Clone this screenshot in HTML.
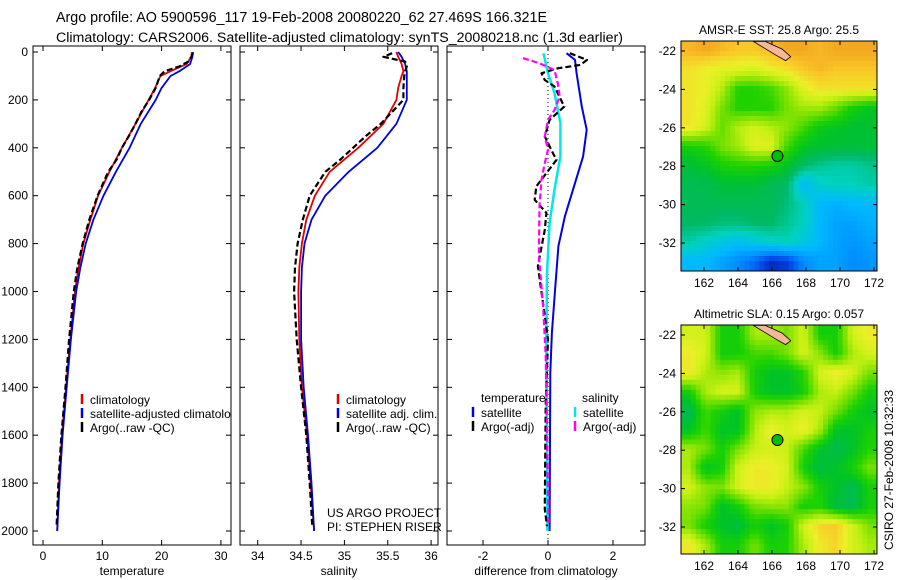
<!DOCTYPE html>
<html><head><meta charset="utf-8"><style>
body{margin:0;background:#fff;}
svg{display:block;font-family:"Liberation Sans",sans-serif;}
</style></head><body>
<svg id="fig" width="900" height="580" viewBox="0 0 900 580" xmlns="http://www.w3.org/2000/svg">
<text x="56" y="22" font-size="14.3">Argo profile: AO 5900596_117 19-Feb-2008 20080220_62 27.469S 166.321E</text>
<text x="56" y="42" font-size="14.2">Climatology: CARS2006. Satellite-adjusted climatology: synTS_20080218.nc (1.3d earlier)</text>
<g id="plots"></g>
<text x="327" y="517" font-size="12">US ARGO PROJECT</text>
<text x="327" y="531" font-size="12">PI: STEPHEN RISER</text>
<text transform="translate(893,470) rotate(-90)" text-anchor="middle" font-size="12">CSIRO 27-Feb-2008 10:32:33</text>
</svg>
<script>
// ---- profile data ----
const depthT = [0,20,50,80,100,150,200,300,400,500,600,700,800,900,1000,1200,1400,1600,1800,2000];
const tempClim = [25.1,25.0,24.2,21.5,19.8,18.9,17.8,15.6,13.3,11.2,9.3,8.0,6.8,6.0,5.4,4.6,3.9,3.2,2.7,2.4];
const tempSat = [25.3,25.2,24.8,23.0,21.5,20.0,19.0,16.5,14.6,12.3,10.2,8.5,7.2,6.3,5.6,4.7,4.0,3.3,2.8,2.4];
const depthArgo = [5,20,40,60,80,100,150,200,250,300,350,400,450,500,600,700,800,900,1000,1200,1400,1600,1800,1980];
const tempArgo = [25.3,25.0,24.5,23.0,20.5,19.7,19.0,17.9,16.6,15.6,14.5,13.3,12.4,11.0,9.2,7.8,6.7,5.8,5.2,4.4,3.8,3.1,2.6,2.3];
const salClim = [35.60,35.62,35.66,35.68,35.66,35.62,35.60,35.45,35.16,34.83,34.66,34.56,34.51,34.48,34.47,34.48,34.51,34.57,34.61,34.65];
const salSat = [35.62,35.66,35.70,35.72,35.72,35.72,35.72,35.60,35.38,35.05,34.78,34.62,34.54,34.51,34.50,34.50,34.53,34.58,34.62,34.65];
const salArgo = [35.55,35.45,35.70,35.72,35.70,35.69,35.68,35.68,35.55,35.42,35.25,35.10,34.95,34.78,34.60,34.52,34.46,34.43,34.42,34.45,34.50,34.56,34.60,34.63];
// difference panel
const dDepthSat = [5,33,89,228,325,436,575,686,811,992,1172,1339,2000];
const dTempSat = [0.57,0.83,0.88,1.04,1.19,1.08,0.77,0.52,0.32,0.22,0.12,0.07,0.05];
const dDepthSalSat = [5,89,172,297,436,575,714,922,1200,2000];
const dSalSat = [-0.14,0,0.2,0.38,0.38,0.2,0.05,-0.03,-0.05,-0.02];
const dDepthTArgo = [5,33,54,68,89,117,144,228,283,353,422,450,561,617,672,742,894,1033,1200,1478,1908,1980];
const dTempArgo = [0.67,1.2,1.0,0.3,-0.2,-0.1,0.2,0.5,0.05,-0.1,0.15,0.26,-0.36,-0.41,-0.05,-0.1,-0.31,-0.17,0,-0.07,-0.1,-0.03];
const dDepthSArgo = [26,47,75,131,186,242,283,353,408,464,533,644,853,1061,1269,1561,1980];
const dSalArgo = [-0.77,-0.26,0.2,0.3,0.36,0.2,0,-0.1,0,-0.1,-0.2,-0.26,-0.28,-0.15,-0.07,-0.03,0.02];
const depthTicks = [0,200,400,600,800,1000,1200,1400,1600,1800,2000];
const tempTicks = [0,10,20,30];
const salTicks = [34,34.5,35,35.5,36];
const salTickLabels = ["34","34.5","35","35.5","36"];
const diffTicks = [-2,0,2];
// ---- map data (rows lat -22..-33, cols lon ~161..172) ----
const sstGrid = [
[.92,.94,.92,.9,.9,.92,.94,.94,.92,.94,.94,.94],
[.86,.84,.82,.82,.8,.84,.86,.9,.92,.9,.9,.9],
[.86,.84,.76,.62,.62,.65,.72,.82,.86,.86,.86,.86],
[.86,.82,.7,.62,.62,.62,.7,.74,.74,.68,.6,.56],
[.86,.8,.68,.76,.8,.76,.72,.65,.58,.56,.54,.54],
[.6,.62,.7,.74,.82,.82,.65,.56,.54,.53,.53,.53],
[.53,.56,.6,.62,.62,.6,.55,.48,.44,.42,.42,.44],
[.5,.5,.53,.53,.53,.5,.48,.3,.38,.4,.4,.42],
[.5,.5,.5,.5,.5,.5,.46,.4,.3,.28,.3,.3],
[.48,.48,.46,.46,.48,.48,.44,.4,.3,.25,.25,.28],
[.42,.38,.35,.32,.35,.38,.4,.35,.3,.25,.22,.25],
[.3,.3,.25,.2,.15,.05,.08,.2,.25,.25,.2,.22]];
const slaGrid = [
[.8,.8,.6,.6,.75,.75,.7,.8,.6,.6,.8,.85],
[.85,.8,.6,.6,.65,.65,.7,.8,.72,.6,.75,.8],
[.85,.75,.72,.75,.6,.55,.55,.62,.8,.85,.8,.7],
[.6,.75,.8,.8,.6,.55,.55,.6,.75,.78,.7,.6],
[.5,.65,.6,.55,.72,.75,.75,.8,.78,.7,.6,.55],
[.55,.65,.55,.55,.75,.85,.8,.85,.75,.55,.55,.6],
[.75,.7,.6,.7,.78,.8,.78,.65,.55,.5,.55,.62],
[.75,.55,.6,.8,.85,.85,.8,.6,.52,.55,.6,.7],
[.8,.72,.7,.8,.85,.85,.78,.72,.6,.55,.5,.6],
[.72,.7,.55,.6,.7,.72,.72,.6,.62,.52,.5,.6],
[.7,.6,.55,.52,.6,.55,.6,.8,.88,.9,.8,.7],
[.85,.75,.6,.6,.7,.6,.62,.75,.85,.88,.8,.75]];
const lonTicks = [162,164,166,168,170,172];
const latTicks = [-22,-24,-26,-28,-30,-32];
const argoLon = 166.321, argoLat = -27.469;

const NS = "http://www.w3.org/2000/svg";
const root = document.getElementById('plots');
function mk(tag, attrs, parent){const e=document.createElementNS(NS,tag);for(const k in attrs)e.setAttribute(k,attrs[k]);(parent||root).appendChild(e);return e;}
function txt(s,attrs,parent){const e=mk('text',attrs,parent);e.textContent=s;return e;}

const Y0=52, KY=0.2395;
const yD = d => Y0 + d*KY;
const PT=46, PB=545;

function panel(name,x0,x1,xf,ticks,labels,xlabel,showY){
  const g=mk('g',{});
  
  
  mk('rect',{x:x0,y:PT,width:x1-x0,height:PB-PT,fill:'#fff',stroke:'#000','stroke-width':1},g);
  depthTicks.forEach(d=>{
    mk('line',{x1:x0,x2:x0+5,y1:yD(d),y2:yD(d),stroke:'#000'},g);
    mk('line',{x1:x1-5,x2:x1,y1:yD(d),y2:yD(d),stroke:'#000'},g);
    if(showY){const t=txt(String(d),{x:x0-5,y:yD(d)+4,'text-anchor':'end','font-size':12},g);
      
      }
  });
  ticks.forEach((v,i)=>{
    const x=xf(v);
    mk('line',{x1:x,x2:x,y1:PT,y2:PT+5,stroke:'#000'},g);
    mk('line',{x1:x,x2:x,y1:PB-5,y2:PB,stroke:'#000'},g);
    const t=txt(labels[i],{x:x,y:PB+15,'text-anchor':'middle','font-size':12},g);
    
    
  });
  const xl=txt(xlabel,{x:(x0+x1)/2,y:575,'text-anchor':'middle','font-size':12},g);
  
  
  return g;
}
function line(g,xs,ds,xf,color,w,dash,name,x0,x1){
  const pts=xs.map((v,i)=>Math.max(x0,Math.min(x1,xf(v))).toFixed(1)+','+yD(ds[i]).toFixed(1)).join(' ');
  const p=mk('polyline',{points:pts,fill:'none',stroke:color,'stroke-width':w,'stroke-dasharray':dash||'none','stroke-linejoin':'round'},g);
  
  
}
function legend(g,x,y,color,label){
  mk('line',{x1:x,x2:x,y1:y-10,y2:y,stroke:color,'stroke-width':2.5},g);
  const t=txt(label,{x:x+8,y:y,'font-size':12},g);
  
  
  return t;
}

// temperature panel
const xT = v => 43 + v*5.93;
const g1=panel('temperature-panel',33,231,xT,tempTicks,tempTicks.map(String),'temperature',true);
line(g1,tempClim,depthT,xT,'#e00000',1.8,null,'temp-climatology-line',33,231);
line(g1,tempSat,depthT,xT,'#0000e0',1.8,null,'temp-satellite-line',33,231);
line(g1,tempArgo,depthArgo,xT,'#000',2.2,'6,3','temp-argo-line',33,231);
legend(g1,82,404,'#e00000','climatology');
legend(g1,82,418,'#0000e0','satellite-adjusted climatology');
legend(g1,82,432,'#000','Argo(..raw -QC)');
mk('rect',{x:231.5,y:405,width:8,height:16,fill:'#fff'},root);
mk('line',{x1:231,x2:231,y1:405,y2:421,stroke:'#000'},root);

// salinity panel
const xS = v => 257.7 + (v-34)*86.7;
const g2=panel('salinity-panel',240,438,xS,salTicks,salTickLabels,'salinity',false);
line(g2,salClim,depthT,xS,'#e00000',1.8,null,'sal-climatology-line',240,438);
line(g2,salSat,depthT,xS,'#0000e0',1.8,null,'sal-satellite-line',240,438);
line(g2,salArgo,depthArgo,xS,'#000',2.2,'6,3','sal-argo-line',240,438);
legend(g2,338,404,'#e00000','climatology');
legend(g2,338,418,'#0000e0','satellite adj. clim.');
legend(g2,338,432,'#000','Argo(..raw -QC)');

// difference panel
const xD = v => 548 + v*32.5;
const g3=panel('difference-panel',447,645,xD,diffTicks,diffTicks.map(String),'difference from climatology',false);
mk('line',{x1:xD(0),x2:xD(0),y1:PT,y2:PB,stroke:'#000','stroke-dasharray':'1,3'},g3);
line(g3,dTempSat,dDepthSat,xD,'#0000e0',2,null,'diff-temp-satellite-line',447,645);
line(g3,dSalSat,dDepthSalSat,xD,'#00e8e8',2.5,null,'diff-sal-satellite-line',447,645);
line(g3,dTempArgo,dDepthTArgo,xD,'#000',2.2,'6,3','diff-temp-argo-line',447,645);
line(g3,dSalArgo,dDepthSArgo,xD,'#ff00ff',2.2,'6,3','diff-sal-argo-line',447,645);
const th=txt('temperature',{x:481,y:402,'font-size':12},g3);


const sh=txt('salinity',{x:582,y:402,'font-size':12},g3);


legend(g3,473,417,'#0000e0','satellite');
legend(g3,473,431,'#000','Argo(-adj)');
legend(g3,575,417,'#00e8e8','satellite');
legend(g3,575,431,'#ff00ff','Argo(-adj)');

// colormap
const cStops=[[0,[0,20,150]],[.1,[0,70,230]],[.2,[0,140,255]],[.3,[0,185,255]],[.4,[0,210,190]],[.48,[0,185,100]],[.55,[0,195,40]],[.62,[30,210,0]],[.7,[120,225,0]],[.78,[200,240,20]],[.84,[235,240,40]],[.9,[250,200,40]],[.95,[240,160,30]],[1,[210,110,10]]];
function cmap(v){for(let i=1;i<cStops.length;i++){if(v<=cStops[i][0]){const a=cStops[i-1],b=cStops[i],t=(v-a[0])/(b[0]-a[0]);const c=a[1].map((x,k)=>Math.round(x+(b[1][k]-x)*t));return `rgb(${c})`;}}return 'rgb(210,110,10)';}
function sample(grid,fr,fc){
  const R=grid.length-1,C=grid[0].length-1;
  fr=Math.max(0,Math.min(R,fr));fc=Math.max(0,Math.min(C,fc));
  const r0=Math.floor(fr),c0=Math.floor(fc),r1=Math.min(R,r0+1),c1=Math.min(C,c0+1),tr=fr-r0,tc=fc-c0;
  return (grid[r0][c0]*(1-tc)+grid[r0][c1]*tc)*(1-tr)+(grid[r1][c0]*(1-tc)+grid[r1][c1]*tc)*tr;
}

function map(name,top,bottom,lat22y,grid,title){
  const x0=681,x1=877;
  const xL = lon => 704 + (lon-162)*17;
  const yL = lat => lat22y + (-22-lat)*19.2;
  const g=mk('g',{});
  
  
  const t=txt(title,{x:(x0+x1)/2,y:top-7,'text-anchor':'middle','font-size':12},g);
  
  
  const rows=grid.length, cols=grid[0].length;
  const NX=40, NY=46, cw=(x1-x0)/NX, ch=(bottom-top)/NY;
  for(let j=0;j<NY;j++)for(let i=0;i<NX;i++){
    const fr=((j+0.5)/NY)*rows-0.5, fc=((i+0.5)/NX)*cols-0.5;
    const cell=mk('rect',{x:(x0+i*cw).toFixed(2),y:(top+j*ch).toFixed(2),width:(cw+0.4).toFixed(2),height:(ch+0.4).toFixed(2),fill:cmap(sample(grid,fr,fc))},g);
    
    
  }
  const isl=mk('polygon',{points:`${xL(164.9)},${yL(-21.5)} ${xL(165.6)},${yL(-21.5)} ${xL(166.6)},${yL(-21.9)} ${xL(167.1)},${yL(-22.3)} ${xL(166.8)},${yL(-22.5)} ${xL(166.2)},${yL(-22.2)}`,fill:'#f4b898',stroke:'#000','stroke-width':0.8},g);
  
  
  mk('rect',{x:x0,y:top,width:x1-x0,height:bottom-top,fill:'none',stroke:'#000'},g);
  const m=mk('circle',{cx:xL(argoLon),cy:yL(argoLat),r:5.5,fill:'#00c000',stroke:'#000','stroke-width':1},g);
  
  
  lonTicks.forEach(l=>{const x=xL(l);
    mk('line',{x1:x,x2:x,y1:top,y2:top+4,stroke:'#000'},g);
    mk('line',{x1:x,x2:x,y1:bottom-4,y2:bottom,stroke:'#000'},g);
    const tl=txt(String(l),{x:x,y:bottom+16,'text-anchor':'middle','font-size':12},g);
    
    });
  latTicks.forEach(l=>{const y=yL(l);
    mk('line',{x1:x0,x2:x0+4,y1:y,y2:y,stroke:'#000'},g);
    mk('line',{x1:x1-4,x2:x1,y1:y,y2:y,stroke:'#000'},g);
    const tl=txt(String(l),{x:x0-5,y:y+4,'text-anchor':'end','font-size':12},g);
    
    });
}
map('sst-map',41,271,51,sstGrid,'AMSR-E SST: 25.8 Argo: 25.5');
map('sla-map',325,554,335,slaGrid,'Altimetric SLA: 0.15 Argo: 0.057');
</script>
</body></html>
